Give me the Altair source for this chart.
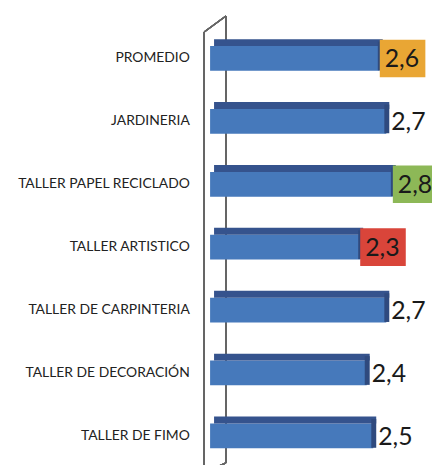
import altair as alt
import pandas as pd

categories = ["PROMEDIO", "JARDINERIA", "TALLER PAPEL RECICLADO", "TALLER ARTISTICO",
              "TALLER DE CARPINTERIA", "TALLER DE DECORACIÓN", "TALLER DE FIMO"]
values = [2.6, 2.7, 2.8, 2.3, 2.7, 2.4, 2.5]
box_colors = ["#E9A634", None, "#8DB857", "#D9453A", None, None, None]

df = pd.DataFrame({
    "cat": categories,
    "val": values,
    "label": [f"{v:.1f}".replace(".", ",") for v in values],
    "box": box_colors,
})

order = categories
y = alt.Y("cat:N", sort=order, title=None,
          scale=alt.Scale(paddingInner=0, paddingOuter=0),
          axis=alt.Axis(domain=False, ticks=False, labelFont="Lato", labelFontSize=14,
                        labelColor="#222222", labelPadding=21, labelLimit=400))
xs = alt.Scale(domain=[0, 3.4], nice=False, zero=True)
x = alt.X("val:Q", scale=xs, axis=None)

base = alt.Chart(df)

front = base.mark_bar(height=25, color="#4679bb").encode(y=y, x=x, x2=alt.value(1))
top = base.mark_bar(height=7, yOffset=-16, xOffset=3, x2Offset=4, color="#35538d").encode(
    y=y, x=x, x2=alt.value(1))
side = base.mark_bar(height=29, yOffset=-2.5, xOffset=-2, x2Offset=3, color="#2f4a7e").encode(
    y=y, x=x, x2=alt.X2("val:Q"))

boxes = base.transform_filter("datum.box != null").mark_bar(height=38, x2Offset=46).encode(
    y=y, x=x, x2=alt.X2("val:Q"), color=alt.Color("box:N", scale=None))

text = base.mark_text(align="left", baseline="middle", dx=5, dy=1, font="Lato",
                      fontSize=25, color="#1a1a1a").encode(y=y, x=x, text="label:N")

wall_front = base.mark_rule(color="#666666", strokeWidth=1.2).encode(
    x=alt.value(-6), y=alt.value(5), y2=alt.value(450))
wall_back = base.mark_rule(color="#666666", strokeWidth=1.2).encode(
    x=alt.value(16), y=alt.value(-11), y2=alt.value(440))
wall_top = base.mark_rule(color="#666666", strokeWidth=1.2).encode(
    x=alt.value(-6), x2=alt.value(16), y=alt.value(5), y2=alt.value(-11))
wall_bot = base.mark_rule(color="#666666", strokeWidth=1.2).encode(
    x=alt.value(-6), x2=alt.value(16), y=alt.value(450), y2=alt.value(440))

chart = alt.layer(wall_back, wall_front, wall_top, wall_bot, front, top, side, boxes, text).properties(
    width=224, height=444.5,
    autosize=alt.AutoSizeParams(type="none"),
    padding={"left": 204, "top": 17, "right": 0, "bottom": 0},
    background="white",
).configure_view(stroke=None)

chart.save("out.html", embed_options={"renderer": "svg", "actions": False})
